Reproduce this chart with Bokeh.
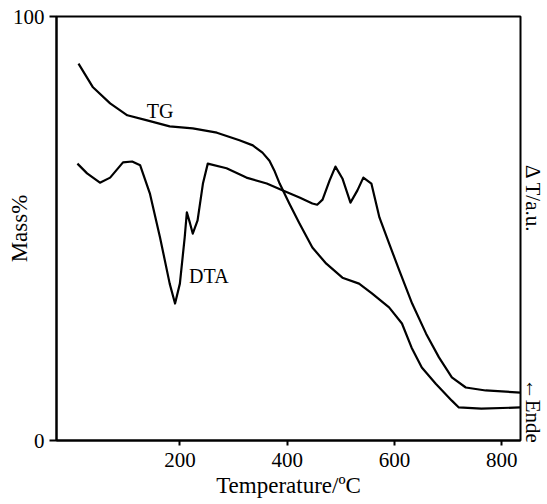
from bokeh.plotting import figure
from bokeh.models import Range1d, FixedTicker, LinearAxis
from bokeh.embed import file_html
from bokeh.resources import INLINE

# ---- data ----
tg_temp = [11, 38, 70, 102, 139, 181, 224, 269, 311, 336, 354, 367, 376, 386, 404, 423, 447, 473,
           503, 534, 558, 590, 614, 632, 651, 677, 707, 720, 762, 835]
tg_mass = [88.9, 83.3, 79.5, 76.7, 75.5, 74.1, 73.6, 72.6, 70.8, 69.6, 67.9, 66.0, 63.7, 60.6,
           55.9, 51.2, 45.5, 41.7, 38.4, 37.0, 34.7, 31.4, 27.6, 21.9, 17.2, 13.4, 9.4, 7.8, 7.5, 7.8]

dta_temp = [9, 27, 51, 70, 94, 111, 126, 144, 163, 181, 191, 200, 209, 213, 219, 224, 233, 243,
            252, 287, 324, 362, 391, 423, 447, 456, 466, 479, 490, 503, 518, 531, 542, 557,
            572, 590, 609, 633, 659, 683, 707, 733, 770, 835]
dta_signal = [65.3, 63.0, 60.8, 62.0, 65.6, 65.8, 64.9, 58.3, 47.9, 37.0, 32.3, 37.0, 47.9, 53.8,
              51.2, 48.8, 51.9, 60.6, 65.3, 64.2, 62.0, 60.6, 59.0, 57.3, 55.9, 55.6, 56.8, 61.3,
              64.6, 61.8, 56.1, 59.0, 62.0, 60.6, 52.6, 46.5, 40.1, 32.3, 25.2, 19.6, 14.9, 12.5,
              11.8, 11.3]

x_ticks = [200, 400, 600, 800]
y_ticks = [0, 100]
right_ticks = [7, 57]
right_tick_labels = {7: "←Ende", 57: "Δ T/a.u."}

FONT = "Liberation Serif"

p = figure(width=547, height=504, x_range=Range1d(-30, 835), y_range=Range1d(0, 100),
           output_backend="svg", toolbar_location=None,
           min_border_left=56, min_border_right=25, min_border_top=16, min_border_bottom=64,
           x_axis_label="Temperature/ºC", y_axis_label="Mass%")
p.grid.visible = False
p.outline_line_color = "black"
p.outline_line_width = 2
p.outline_line_alpha = 1
p.background_fill_color = "white"
p.border_fill_color = "white"

p.xaxis.ticker = FixedTicker(ticks=x_ticks)
p.yaxis.ticker = FixedTicker(ticks=y_ticks)
for ax in (p.xaxis[0], p.yaxis[0]):
    ax.axis_line_color = "black"
    ax.axis_line_width = 2
    ax.major_tick_line_color = "black"
    ax.major_tick_line_width = 2
    ax.major_tick_in = 0
    ax.minor_tick_line_color = None
    ax.major_label_text_font = FONT
    ax.major_label_text_font_size = "21px"
    ax.major_label_text_color = "black"
    ax.axis_label_text_font = FONT
    ax.axis_label_text_font_size = "23px"
    ax.axis_label_text_font_style = "normal"
    ax.axis_label_text_color = "black"
p.xaxis.major_tick_out = 5
p.xaxis.major_label_standoff = 7
p.xaxis.axis_label_standoff = 3
p.yaxis.major_tick_out = 7
p.yaxis.major_label_standoff = 5
p.yaxis.axis_label_standoff = -22

right = LinearAxis(ticker=FixedTicker(ticks=right_ticks),
                   major_label_overrides=right_tick_labels,
                   major_label_orientation="vertical",
                   major_label_standoff=0,
                   major_tick_out=0, major_tick_in=0,
                   major_tick_line_color=None, minor_tick_line_color=None,
                   axis_line_color=None,
                   major_label_text_font=FONT, major_label_text_font_size="21px",
                   major_label_text_color="black")
p.add_layout(right, "right")

p.line(tg_temp, tg_mass, line_color="black", line_width=2.2, line_join="round")
p.line(dta_temp, dta_signal, line_color="black", line_width=2.2, line_join="round")

p.text(x=[163], y=[77.6], text=["TG"], text_font={"value": FONT}, text_font_size="20px",
       text_color="black", text_align="center", text_baseline="middle")
p.text(x=[254], y=[38.9], text=["DTA"], text_font={"value": FONT}, text_font_size="20px",
       text_color="black", text_align="center", text_baseline="middle")

open("out.html", "w").write(file_html(p, INLINE))
